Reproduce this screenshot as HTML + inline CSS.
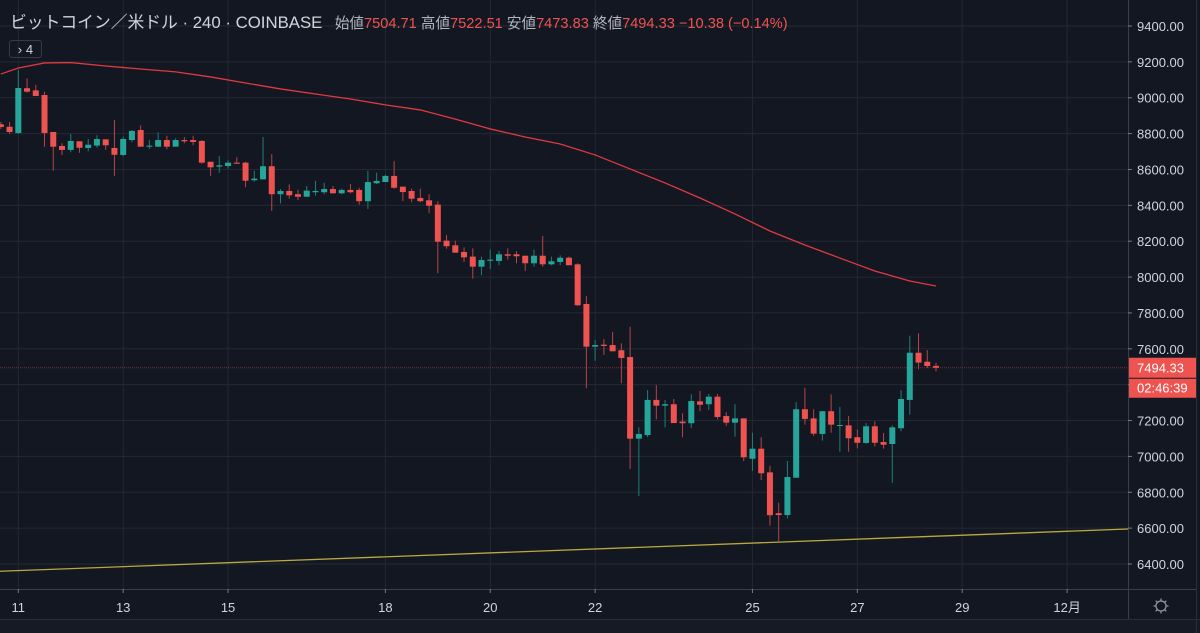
<!DOCTYPE html>
<html><head><meta charset="utf-8">
<style>
body{margin:0;background:#131722;width:1200px;height:633px;overflow:hidden;font-family:"Liberation Sans","Noto Sans CJK JP",sans-serif}
#wrap{position:relative;width:1200px;height:633px}
.hdr{position:absolute;left:10px;top:9px;white-space:nowrap;color:#d1d4dc}
.title{font-size:16.8px;color:#d1d4dc}
.ohlc{font-size:14.6px;color:#b2b5be;margin-left:8px}
.ohlc b{font-weight:normal;color:#ef5350}
.badge{position:absolute;left:9px;top:40px;width:33px;height:18px;border:1px solid #363a45;border-radius:3px;color:#d1d4dc;font-size:13px;line-height:18px;text-align:center;box-sizing:border-box}
</style></head><body>
<div id="wrap">
<svg id="chart" width="1200" height="633" style="position:absolute;left:0;top:0"></svg>
<div class="hdr">
<span class="title">ビットコイン／米ドル · 240 · COINBASE</span>
<span class="ohlc">始値<b>7504.71</b> 高値<b>7522.51</b> 安値<b>7473.83</b> 終値<b>7494.33</b> <b>−10.38 (−0.14%)</b></span>
</div>
<div class="badge">› 4</div>
</div>
<script>
const opens=[8852,8838,8803,9053,9041,9015,8809,8731,8709,8757,8720,8733,8768,8720,8681,8764,8820,8727,8727,8764,8727,8764,8764,8759,8643,8616,8619,8638,8638,8540,8545,8618,8462,8480,8462,8448,8473,8473,8491,8467,8486,8486,8423,8523,8530,8564,8504,8480,8441,8428,8404,8203,8177,8140,8114,8058,8091,8090,8127,8127,8119,8077,8119,8071,8084,8108,8071,7850,7612,7623,7621,7592,7554,7099,7119,7315,7283,7291,7194,7185,7307,7291,7333,7225,7188,7212,6987,7043,6911,6683,6673,6881,7263,7212,7125,7252,7170,7173,7107,7075,7168,7080,7069,7157,7315,7578,7528,7504.71];
const highs=[8865,8865,9155,9108,9071,9034,8809,8746,8798,8757,8770,8791,8768,8876,8783,8820,8846,8764,8807,8788,8774,8781,8788,8764,8643,8674,8651,8668,8643,8593,8781,8686,8491,8517,8486,8508,8537,8526,8508,8493,8519,8498,8593,8582,8571,8646,8504,8493,8493,8462,8423,8235,8203,8166,8160,8114,8153,8145,8160,8145,8119,8153,8229,8114,8121,8114,8077,7894,7649,7655,7694,7631,7723,7162,7370,7397,7315,7320,7240,7346,7365,7348,7348,7246,7291,7212,7132,7107,6948,6742,6974,7303,7383,7263,7252,7346,7276,7225,7149,7186,7196,7131,7173,7369,7673,7686,7593,7522.51];
const lows=[8826,8798,8798,9028,9010,8727,8593,8681,8696,8693,8701,8721,8709,8564,8675,8752,8727,8714,8727,8713,8727,8746,8735,8632,8564,8582,8604,8632,8501,8532,8545,8369,8411,8437,8430,8448,8454,8462,8467,8462,8467,8404,8380,8519,8530,8493,8423,8417,8417,8356,8021,8158,8136,8084,7991,8010,8045,8066,8097,8077,8034,8058,8058,8066,8066,8066,7839,7380,7534,7566,7586,7408,6930,6779,7107,7207,7162,7186,7107,7158,7252,7259,7207,7170,7110,6974,6919,6868,6614,6528,6653,6881,7177,7114,7088,7132,7026,7026,7045,7071,7056,7043,6853,7140,7233,7486,7493,7473.83];
const closes=[8837,8809,9054,9034,9010,8803,8727,8709,8759,8721,8738,8770,8735,8682,8770,8815,8727,8733,8764,8727,8764,8757,8753,8638,8612,8623,8638,8632,8537,8549,8618,8462,8480,8456,8448,8482,8480,8491,8467,8486,8473,8423,8530,8536,8564,8498,8474,8437,8423,8398,8197,8172,8136,8110,8058,8095,8097,8127,8119,8116,8077,8119,8071,8088,8108,8066,7843,7612,7621,7616,7586,7549,7099,7125,7315,7283,7291,7186,7185,7309,7288,7333,7220,7188,7212,6995,7043,6906,6672,6673,6885,7263,7209,7127,7252,7177,7175,7101,7076,7168,7076,7065,7162,7320,7578,7523,7504,7494.33];
const maIdx=[0,2,5,8,12,16,20,24,28,32,36,40,44,48,52,56,60,64,68,72,76,80,84,88,92,96,100,104,107];
const maVals=[9132,9166,9194,9196,9177,9160,9144,9116,9082,9049,9021,8993,8960,8932,8881,8826,8781,8742,8681,8603,8525,8441,8352,8257,8179,8106,8034,7978,7950];
const trendIdx=[-2,130];
const trendVals=[6356,6597];
const priceTicks=[9400,9200,9000,8800,8600,8400,8200,8000,7800,7600,7400,7200,7000,6800,6600,6400];
const dateIdx=[2,14,26,44,56,68,86,98,110,122];
const dateLabels=["11","13","15","18","20","22","25","27","29","12月"];
const lastPrice=7494.33;

const NS="http://www.w3.org/2000/svg";
const svg=document.getElementById('chart');
const PW=1128, PH=589;
function y(p){return 26+(9400-p)*0.179333;}
function x(i){return 18.3+(i-2)*8.74;}
function mk(tag,attrs,parent){const e=document.createElementNS(NS,tag);for(const k in attrs)e.setAttribute(k,attrs[k]);(parent||svg).appendChild(e);return e;}

const defs=mk('defs',{});
const cp=mk('clipPath',{id:'plot'},defs);mk('rect',{x:0,y:0,width:PW,height:PH},cp);

const grid=mk('g',{});


priceTicks.forEach(p=>{mk('line',{x1:0,x2:PW,y1:y(p),y2:y(p),stroke:'#242833','stroke-width':1},grid);});
dateIdx.forEach(i=>{mk('line',{x1:x(i),x2:x(i),y1:0,y2:PH,stroke:'#242833','stroke-width':1},grid);});

const plot=mk('g',{'clip-path':'url(#plot)'});
const tl=mk('line',{x1:x(trendIdx[0]),y1:y(trendVals[0]),x2:x(trendIdx[1]),y2:y(trendVals[1]),stroke:'#b9a93f','stroke-width':1.3},plot);


const ma=mk('polyline',{points:maIdx.map((i,k)=>x(i)+','+y(maVals[k])).join(' '),fill:'none',stroke:'#e0393e','stroke-width':1.3},plot);


const lp=mk('line',{x1:0,x2:PW,y1:y(lastPrice),y2:y(lastPrice),stroke:'#7a2e33','stroke-width':1,'stroke-dasharray':'1 1'},plot);


const cg=mk('g',{},plot);


for(let i=0;i<opens.length;i++){
  const up=closes[i]>=opens[i];
  const col=up?'#26a69a':'#ef5350';
  const wcol=up?'#1f7f77':'#b8434a';
  const g=mk('g',{},cg);
  
  
  const cx=x(i);
  mk('line',{x1:cx,x2:cx,y1:y(highs[i]),y2:y(lows[i]),stroke:wcol,'stroke-width':1},g);
  const t=y(Math.max(opens[i],closes[i])),b=y(Math.min(opens[i],closes[i]));
  mk('rect',{x:cx-3,y:t,width:6,height:Math.max(1,b-t),fill:col},g);
}

const ax=mk('g',{});


mk('line',{x1:PW+0.5,x2:PW+0.5,y1:0,y2:619,stroke:'#3a3e48','stroke-width':1},ax);
priceTicks.forEach(p=>{
  mk('line',{x1:PW,x2:PW+4,y1:y(p),y2:y(p),stroke:'#787b86'},ax);
  const t=mk('text',{x:1137,y:y(p)+5,fill:'#d1d4dc','font-size':'13','font-family':'Liberation Sans, sans-serif'},ax);
  t.textContent=p.toFixed(2);
  
  
});
const lb=mk('g',{},ax);


mk('rect',{x:PW+1,y:y(lastPrice)-10,width:67,height:20,fill:'#ef5350'},lb);
const lt=mk('text',{x:1137,y:y(lastPrice)+5,fill:'#fff','font-size':'13','font-family':'Liberation Sans, sans-serif'},lb);
lt.textContent=lastPrice.toFixed(2);
const cb=mk('g',{},ax);


mk('rect',{x:PW+1,y:y(lastPrice)+11,width:67,height:19,fill:'#ef5350'},cb);
const ct=mk('text',{x:1137,y:y(lastPrice)+25,fill:'#fff','font-size':'13','font-family':'Liberation Sans, sans-serif'},cb);
ct.textContent='02:46:39';

const bx=mk('g',{});


mk('line',{x1:0,x2:1196,y1:589.5,y2:589.5,stroke:'#3a3e48'},bx);
mk('rect',{x:0,y:619,width:1200,height:14,fill:'#161a25'},bx);
mk('line',{x1:0,x2:1200,y1:619.5,y2:619.5,stroke:'#2a2e39'},bx);
mk('line',{x1:1196.5,x2:1196.5,y1:0,y2:633,stroke:'#2a2e39'},bx);
dateIdx.forEach((i,k)=>{
  mk('line',{x1:x(i),x2:x(i),y1:589,y2:593,stroke:'#787b86'},bx);
  const t=mk('text',{x:x(i),y:612,fill:'#d1d4dc','font-size':'13','text-anchor':'middle','font-family':'Liberation Sans, Noto Sans CJK JP, sans-serif'},bx);
  t.textContent=dateLabels[k];
  
  
});
const gear=mk('g',{},bx);


mk('circle',{cx:1161,cy:606,r:5,fill:'none',stroke:'#9598a1','stroke-width':1.2},gear);
for(let a=0;a<8;a++){const r=a*Math.PI/4;mk('line',{x1:1161+5*Math.cos(r),y1:606+5*Math.sin(r),x2:1161+7.5*Math.cos(r),y2:606+7.5*Math.sin(r),stroke:'#9598a1','stroke-width':1.2},gear);}
</script>
</body></html>
